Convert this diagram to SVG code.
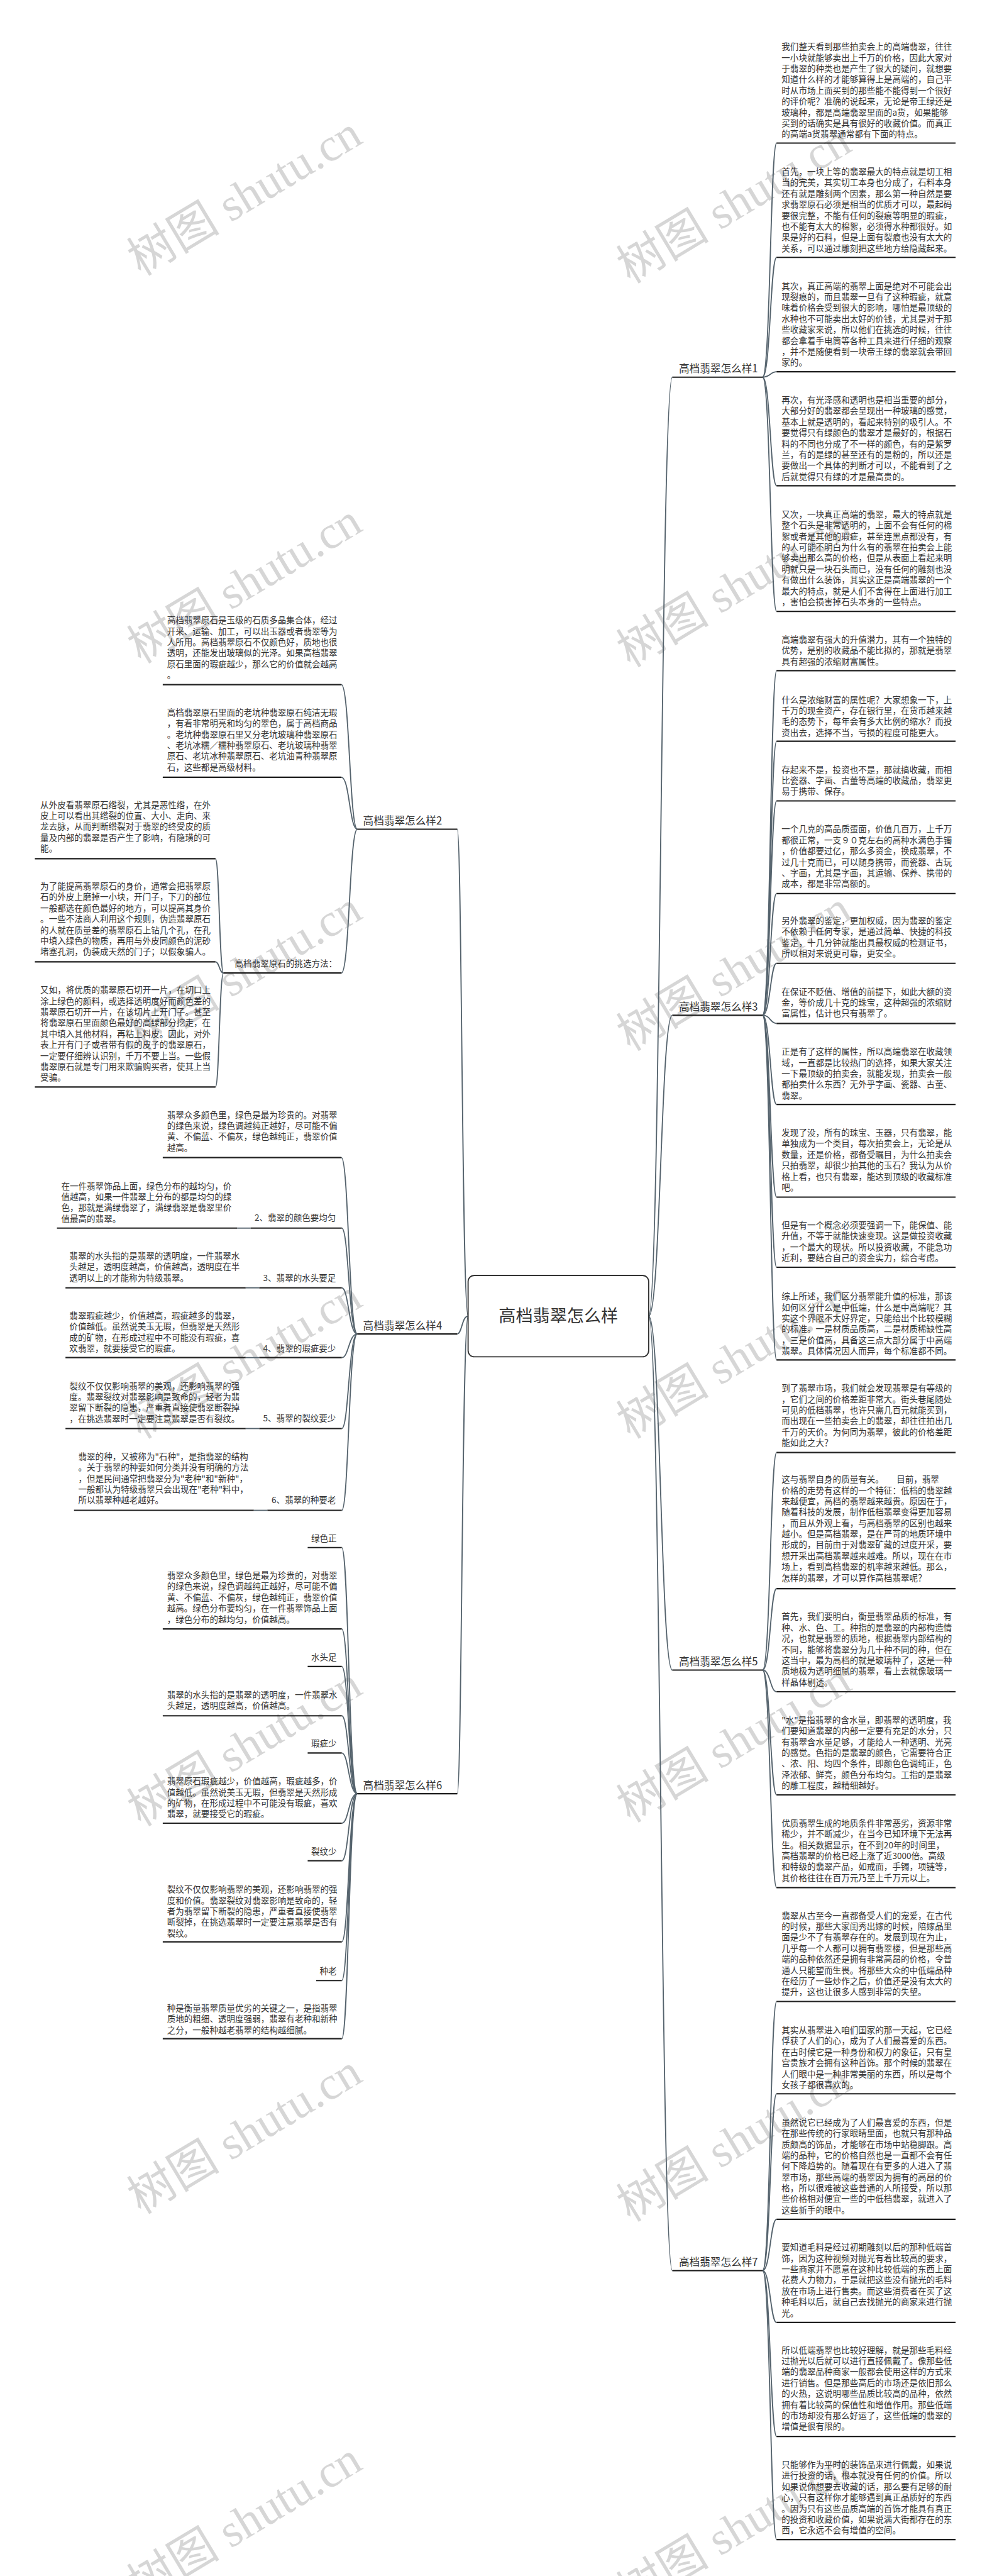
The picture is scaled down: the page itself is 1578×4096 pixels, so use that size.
<svg xmlns="http://www.w3.org/2000/svg" width="1578" height="4096" viewBox="0 0 1578 4096">
<style>
.t{font-family:"Noto Sans CJK SC","Noto Sans",sans-serif;font-size:22px;fill:#333}
.lb{font-family:"Noto Sans CJK SC","Noto Sans",sans-serif;font-size:27px;fill:#333}
.ct{font-family:"Noto Sans CJK SC","Noto Sans",sans-serif;font-size:44px;fill:#333}
.u{stroke:#1f1f1f;stroke-width:3.5;fill:none}
.c{stroke:#55636d;stroke-width:3;fill:none}
.wm{font-family:"Liberation Serif","Noto Sans CJK SC",serif;font-size:120px;fill:#d6d6d6}
</style>
<rect width="1578" height="4096" fill="#fff"/>
<g transform="scale(0.61641)">
<g id="watermarks">
<text class="wm" transform="translate(652,540) rotate(-31)" text-anchor="middle">树图 shutu.cn</text>
<text class="wm" transform="translate(652,1540) rotate(-31)" text-anchor="middle">树图 shutu.cn</text>
<text class="wm" transform="translate(652,2540) rotate(-31)" text-anchor="middle">树图 shutu.cn</text>
<text class="wm" transform="translate(652,3540) rotate(-31)" text-anchor="middle">树图 shutu.cn</text>
<text class="wm" transform="translate(652,4540) rotate(-31)" text-anchor="middle">树图 shutu.cn</text>
<text class="wm" transform="translate(652,5540) rotate(-31)" text-anchor="middle">树图 shutu.cn</text>
<text class="wm" transform="translate(652,6540) rotate(-31)" text-anchor="middle">树图 shutu.cn</text>
<text class="wm" transform="translate(1915,560) rotate(-31)" text-anchor="middle">树图 shutu.cn</text>
<text class="wm" transform="translate(1915,1550) rotate(-31)" text-anchor="middle">树图 shutu.cn</text>
<text class="wm" transform="translate(1915,2540) rotate(-31)" text-anchor="middle">树图 shutu.cn</text>
<text class="wm" transform="translate(1915,3540) rotate(-31)" text-anchor="middle">树图 shutu.cn</text>
<text class="wm" transform="translate(1915,4530) rotate(-31)" text-anchor="middle">树图 shutu.cn</text>
<text class="wm" transform="translate(1915,5560) rotate(-31)" text-anchor="middle">树图 shutu.cn</text>
<text class="wm" transform="translate(1915,6560) rotate(-31)" text-anchor="middle">树图 shutu.cn</text>
</g>

<g id="connectors">
<path class="c" d="M1674,3395 C1705,3395 1705,973 1735,973"/>
<path class="c" d="M1674,3395 C1705,3395 1705,2619 1735,2619"/>
<path class="c" d="M1674,3395 C1705,3395 1705,4308 1735,4308"/>
<path class="c" d="M1674,3395 C1705,3395 1705,5857 1735,5857"/>
<path class="c" d="M1208,3395 C1192,3395 1192,2139 1180,2139"/>
<path class="c" d="M1208,3395 C1192,3395 1192,3441 1180,3441"/>
<path class="c" d="M1208,3395 C1192,3395 1192,4627 1180,4627"/>
<path class="c" d="M1968,973 C1988,973 1988,369 2004,369"/>
<path class="c" d="M1968,973 C1988,973 1988,664 2004,664"/>
<path class="c" d="M1968,973 C1988,973 1988,959 2004,959"/>
<path class="c" d="M1968,973 C1988,973 1988,1253 2004,1253"/>
<path class="c" d="M1968,973 C1988,973 1988,1577 2004,1577"/>
<path class="c" d="M1968,2619 C1988,2619 1988,1730 2004,1730"/>
<path class="c" d="M1968,2619 C1988,2619 1988,1912 2004,1912"/>
<path class="c" d="M1968,2619 C1988,2619 1988,2066 2004,2066"/>
<path class="c" d="M1968,2619 C1988,2619 1988,2305 2004,2305"/>
<path class="c" d="M1968,2619 C1988,2619 1988,2485 2004,2485"/>
<path class="c" d="M1968,2619 C1988,2619 1988,2640 2004,2640"/>
<path class="c" d="M1968,2619 C1988,2619 1988,2849 2004,2849"/>
<path class="c" d="M1968,2619 C1988,2619 1988,3088 2004,3088"/>
<path class="c" d="M1968,2619 C1988,2619 1988,3269 2004,3269"/>
<path class="c" d="M1968,2619 C1988,2619 1988,3508 2004,3508"/>
<path class="c" d="M1968,4308 C1988,4308 1988,3747 2004,3747"/>
<path class="c" d="M1968,4308 C1988,4308 1988,4098 2004,4098"/>
<path class="c" d="M1968,4308 C1988,4308 1988,4364 2004,4364"/>
<path class="c" d="M1968,4308 C1988,4308 1988,4630 2004,4630"/>
<path class="c" d="M1968,4308 C1988,4308 1988,4869 2004,4869"/>
<path class="c" d="M1968,5857 C1988,5857 1988,5163 2004,5163"/>
<path class="c" d="M1968,5857 C1988,5857 1988,5401 2004,5401"/>
<path class="c" d="M1968,5857 C1988,5857 1988,5725 2004,5725"/>
<path class="c" d="M1968,5857 C1988,5857 1988,5991 2004,5991"/>
<path class="c" d="M1968,5857 C1988,5857 1988,6285 2004,6285"/>
<path class="c" d="M1968,5857 C1988,5857 1988,6551 2004,6551"/>
<path class="c" d="M922,2139 C902,2139 902,1766 881,1766"/>
<path class="c" d="M922,2139 C902,2139 902,2005 881,2005"/>
<path class="c" d="M922,2139 C902,2139 902,2510 881,2510"/>
<path class="c" d="M577,2510 C566,2510 566,2215 556,2215"/>
<path class="c" d="M577,2510 C566,2510 566,2481 556,2481"/>
<path class="c" d="M577,2510 C566,2510 566,2804 556,2804"/>
<path class="c" d="M922,3441 C900,3441 900,2986 881,2986"/>
<path class="c" d="M922,3441 C900,3441 900,3168 882,3168"/>
<path class="c" d="M922,3441 C900,3441 900,3322 882,3322"/>
<path class="c" d="M922,3441 C900,3441 900,3502 882,3502"/>
<path class="c" d="M922,3441 C900,3441 900,3685 882,3685"/>
<path class="c" d="M922,3441 C900,3441 900,3896 882,3896"/>
<path class="c" d="M647,3168 L612,3168"/>
<path class="c" d="M669,3322 L634,3322"/>
<path class="c" d="M669,3502 L634,3502"/>
<path class="c" d="M669,3685 L634,3685"/>
<path class="c" d="M690,3896 L655,3896"/>
<path class="c" d="M922,4627 C900,4627 900,3992 882,3992"/>
<path class="c" d="M922,4627 C900,4627 900,4202 882,4202"/>
<path class="c" d="M922,4627 C900,4627 900,4299 882,4299"/>
<path class="c" d="M922,4627 C900,4627 900,4426 882,4426"/>
<path class="c" d="M922,4627 C900,4627 900,4522 882,4522"/>
<path class="c" d="M922,4627 C900,4627 900,4703 882,4703"/>
<path class="c" d="M922,4627 C900,4627 900,4800 882,4800"/>
<path class="c" d="M922,4627 C900,4627 900,5009 882,5009"/>
<path class="c" d="M922,4627 C900,4627 900,5109 882,5109"/>
<path class="c" d="M922,4627 C900,4627 900,5259 882,5259"/>
</g>

<g id="center">
<rect x="1208" y="3290" width="466" height="210" rx="16" fill="#fff" stroke="#333" stroke-width="3"/>
<text class="ct" x="1441" y="3410" text-anchor="middle">高档翡翠怎么样</text>
</g>

<g id="b1"><text class="lb" x="1752" y="961">高档翡翠怎么样1</text><path class="u" d="M1735,973 H1968"/></g>
<g id="b3"><text class="lb" x="1752" y="2607">高档翡翠怎么样3</text><path class="u" d="M1735,2619 H1968"/></g>
<g id="b5"><text class="lb" x="1752" y="4296">高档翡翠怎么样5</text><path class="u" d="M1735,4308 H1968"/></g>
<g id="b7"><text class="lb" x="1752" y="5845">高档翡翠怎么样7</text><path class="u" d="M1735,5857 H1968"/></g>
<g id="b2"><text class="lb" x="937" y="2127">高档翡翠怎么样2</text><path class="u" d="M922,2139 H1180"/></g>
<g id="b4"><text class="lb" x="937" y="3429">高档翡翠怎么样4</text><path class="u" d="M922,3441 H1180"/></g>
<g id="b6"><text class="lb" x="937" y="4615">高档翡翠怎么样6</text><path class="u" d="M922,4627 H1180"/></g>

<g id="nA"><text class="t" x="2017" y="128.6"><tspan x="2017">我们整天看到那些拍卖会上的高端翡翠，往往</tspan><tspan x="2017" dy="28.2">一小块就能够卖出上千万的价格，因此大家对</tspan><tspan x="2017" dy="28.2">于翡翠的种类也是产生了很大的疑问，就想要</tspan><tspan x="2017" dy="28.2">知道什么样的才能够算得上是高端的，自己平</tspan><tspan x="2017" dy="28.2">时从市场上面买到的那些能不能得到一个很好</tspan><tspan x="2017" dy="28.2">的评价呢？准确的说起来，无论是帝王绿还是</tspan><tspan x="2017" dy="28.2">玻璃种，都是高端翡翠里面的a货，如果能够</tspan><tspan x="2017" dy="28.2">买到的话确实是具有很好的收藏价值。而真正</tspan><tspan x="2017" dy="28.2">的高端a货翡翠通常都有下面的特点。</tspan></text><path class="u" d="M2004,369 H2466"/></g>
<g id="nB"><text class="t" x="2017" y="451"><tspan x="2017">首先，一块上等的翡翠最大的特点就是切工相</tspan><tspan x="2017" dy="28.2">当的完美，其实切工本身也分成了，石料本身</tspan><tspan x="2017" dy="28.2">还有就是雕刻两个因素，那么第一种自然是要</tspan><tspan x="2017" dy="28.2">求翡翠原石必须是相当的优质才可以，最起码</tspan><tspan x="2017" dy="28.2">要很完整，不能有任何的裂痕等明显的瑕疵，</tspan><tspan x="2017" dy="28.2">也不能有太大的棉絮，必须得水种都很好。如</tspan><tspan x="2017" dy="28.2">果是好的石料，但是上面有裂痕也没有太大的</tspan><tspan x="2017" dy="28.2">关系，可以通过雕刻把这些地方给隐藏起来。</tspan></text><path class="u" d="M2004,664 H2466"/></g>
<g id="nC"><text class="t" x="2017" y="745.6"><tspan x="2017">其次，真正高端的翡翠上面是绝对不可能会出</tspan><tspan x="2017" dy="28.2">现裂痕的，而且翡翠一旦有了这种瑕疵，就意</tspan><tspan x="2017" dy="28.2">味着价格会受到很大的影响，哪怕是最顶级的</tspan><tspan x="2017" dy="28.2">水种也不可能卖出太好的价钱，尤其是对于那</tspan><tspan x="2017" dy="28.2">些收藏家来说，所以他们在挑选的时候，往往</tspan><tspan x="2017" dy="28.2">都会拿着手电筒等各种工具来进行仔细的观察</tspan><tspan x="2017" dy="28.2">，并不是随便看到一块帝王绿的翡翠就会带回</tspan><tspan x="2017" dy="28.2">家的。</tspan></text><path class="u" d="M2004,959 H2466"/></g>
<g id="nD"><text class="t" x="2017" y="1040"><tspan x="2017">再次，有光泽感和透明也是相当重要的部分，</tspan><tspan x="2017" dy="28.2">大部分好的翡翠都会呈现出一种玻璃的感觉，</tspan><tspan x="2017" dy="28.2">基本上就是透明的，看起来特别的吸引人。不</tspan><tspan x="2017" dy="28.2">要觉得只有绿颜色的翡翠才是最好的，根据石</tspan><tspan x="2017" dy="28.2">料的不同也分成了不一样的颜色，有的是紫罗</tspan><tspan x="2017" dy="28.2">兰，有的是绿的甚至还有的是粉的，所以还是</tspan><tspan x="2017" dy="28.2">要做出一个具体的判断才可以，不能看到了之</tspan><tspan x="2017" dy="28.2">后就觉得只有绿的才是最高贵的。</tspan></text><path class="u" d="M2004,1253 H2466"/></g>
<g id="nE"><text class="t" x="2017" y="1335"><tspan x="2017">又次，一块真正高端的翡翠，最大的特点就是</tspan><tspan x="2017" dy="28.2">整个石头是非常透明的，上面不会有任何的棉</tspan><tspan x="2017" dy="28.2">絮或者是其他的瑕疵，甚至连黑点都没有，有</tspan><tspan x="2017" dy="28.2">的人可能不明白为什么有的翡翠在拍卖会上能</tspan><tspan x="2017" dy="28.2">够卖出那么高的价格，但是从表面上看起来明</tspan><tspan x="2017" dy="28.2">明就只是一块石头而已，没有任何的雕刻也没</tspan><tspan x="2017" dy="28.2">有做出什么装饰，其实这正是高端翡翠的一个</tspan><tspan x="2017" dy="28.2">最大的特点，就是人们不舍得在上面进行加工</tspan><tspan x="2017" dy="28.2">，害怕会损害掉石头本身的一些特点。</tspan></text><path class="u" d="M2004,1577 H2466"/></g>
<g id="nF"><text class="t" x="2017" y="1658"><tspan x="2017">高端翡翠有强大的升值潜力，其有一个独特的</tspan><tspan x="2017" dy="28.2">优势，是别的收藏品不能比拟的，那就是翡翠</tspan><tspan x="2017" dy="28.2">具有超强的浓缩财富属性。</tspan></text><path class="u" d="M2004,1730 H2466"/></g>
<g id="nG"><text class="t" x="2017" y="1813"><tspan x="2017">什么是浓缩财富的属性呢？大家想象一下，上</tspan><tspan x="2017" dy="28.2">千万的现金资产，存在银行里，在货币越来越</tspan><tspan x="2017" dy="28.2">毛的态势下，每年会有多大比例的缩水？而投</tspan><tspan x="2017" dy="28.2">资出去，选择不当，亏损的程度可能更大。</tspan></text><path class="u" d="M2004,1912 H2466"/></g>
<g id="nH"><text class="t" x="2017" y="1993"><tspan x="2017">存起来不是，投资也不是，那就搞收藏，而相</tspan><tspan x="2017" dy="28.2">比瓷器、字画、古董等高端的收藏品，翡翠更</tspan><tspan x="2017" dy="28.2">易于携带、保存。</tspan></text><path class="u" d="M2004,2066 H2466"/></g>
<g id="nI"><text class="t" x="2017" y="2147"><tspan x="2017">一个几克的高品质蛋面，价值几百万，上千万</tspan><tspan x="2017" dy="28.2">都很正常，一支９０克左右的高种水满色手镯</tspan><tspan x="2017" dy="28.2">，价值都要过亿，那么多资金，换成翡翠，不</tspan><tspan x="2017" dy="28.2">过几十克而已，可以随身携带，而瓷器、古玩</tspan><tspan x="2017" dy="28.2">、字画，尤其是字画，其运输、保养、携带的</tspan><tspan x="2017" dy="28.2">成本，都是非常高额的。</tspan></text><path class="u" d="M2004,2305 H2466"/></g>
<g id="nJ"><text class="t" x="2017" y="2383"><tspan x="2017">另外翡翠的鉴定，更加权威，因为翡翠的鉴定</tspan><tspan x="2017" dy="28.2">不依赖于任何专家，是通过简单、快捷的科技</tspan><tspan x="2017" dy="28.2">鉴定，十几分钟就能出具最权威的检测证书，</tspan><tspan x="2017" dy="28.2">所以相对来说更可靠，更安全。</tspan></text><path class="u" d="M2004,2485 H2466"/></g>
<g id="nK"><text class="t" x="2017" y="2566"><tspan x="2017">在保证不贬值、增值的前提下，如此大额的资</tspan><tspan x="2017" dy="28.2">金，等价成几十克的珠宝，这种超强的浓缩财</tspan><tspan x="2017" dy="28.2">富属性，估计也只有翡翠了。</tspan></text><path class="u" d="M2004,2640 H2466"/></g>
<g id="nL"><text class="t" x="2017" y="2721"><tspan x="2017">正是有了这样的属性，所以高端翡翠在收藏领</tspan><tspan x="2017" dy="28.2">域，一直都是比较热门的选择，如果大家关注</tspan><tspan x="2017" dy="28.2">一下最顶级的拍卖会，就能发现，拍卖会一般</tspan><tspan x="2017" dy="28.2">都拍卖什么东西？无外乎字画、瓷器、古董、</tspan><tspan x="2017" dy="28.2">翡翠。</tspan></text><path class="u" d="M2004,2849 H2466"/></g>
<g id="nM"><text class="t" x="2017" y="2930"><tspan x="2017">发现了没，所有的珠宝、玉器，只有翡翠，能</tspan><tspan x="2017" dy="28.2">单独成为一个类目，每次拍卖会上，无论是从</tspan><tspan x="2017" dy="28.2">数量，还是价格，都备受瞩目，为什么拍卖会</tspan><tspan x="2017" dy="28.2">只拍翡翠，却很少拍其他的玉石？我认为从价</tspan><tspan x="2017" dy="28.2">格上看，也只有翡翠，能达到顶级的收藏标准</tspan><tspan x="2017" dy="28.2">吧。</tspan></text><path class="u" d="M2004,3088 H2466"/></g>
<g id="nN"><text class="t" x="2017" y="3168"><tspan x="2017">但是有一个概念必须要强调一下，能保值、能</tspan><tspan x="2017" dy="28.2">升值，不等于就能快速变现。这是做投资收藏</tspan><tspan x="2017" dy="28.2">，一个最大的现状。所以投资收藏，不能急功</tspan><tspan x="2017" dy="28.2">近利，要结合自己的资金实力，综合考虑。</tspan></text><path class="u" d="M2004,3269 H2466"/></g>
<g id="nO"><text class="t" x="2017" y="3352"><tspan x="2017">综上所述，我们区分翡翠能升值的标准，那该</tspan><tspan x="2017" dy="28.2">如何区分什么是中低端，什么是中高端呢？其</tspan><tspan x="2017" dy="28.2">实这个界限不太好界定，只能给出个比较模糊</tspan><tspan x="2017" dy="28.2">的标准。一是材质品质高，二是材质稀缺性高</tspan><tspan x="2017" dy="28.2">，三是价值高，具备这三点大部分属于中高端</tspan><tspan x="2017" dy="28.2">翡翠。具体情况因人而异，每个标准都不同。</tspan></text><path class="u" d="M2004,3508 H2466"/></g>
<g id="nP"><text class="t" x="2017" y="3589"><tspan x="2017">到了翡翠市场，我们就会发现翡翠是有等级的</tspan><tspan x="2017" dy="28.2">，它们之间的价格差距非常大。街头巷尾随处</tspan><tspan x="2017" dy="28.2">可见的低档翡翠，也许只需几百元就能买到，</tspan><tspan x="2017" dy="28.2">而出现在一些拍卖会上的翡翠，却往往拍出几</tspan><tspan x="2017" dy="28.2">千万的天价。为何同为翡翠，彼此的价格差距</tspan><tspan x="2017" dy="28.2">能如此之大？</tspan></text><path class="u" d="M2004,3747 H2466"/></g>
<g id="nQ"><text class="t" x="2017" y="3824"><tspan x="2017">这与翡翠自身的质量有关。　　目前，翡翠</tspan><tspan x="2017" dy="28.2">价格的走势有这样的一个特征：低档的翡翠越</tspan><tspan x="2017" dy="28.2">来越便宜，高档的翡翠越来越贵。原因在于，</tspan><tspan x="2017" dy="28.2">随着科技的发展，制作低档翡翠变得更加容易</tspan><tspan x="2017" dy="28.2">，而且从外观上看，与高档翡翠的区别也越来</tspan><tspan x="2017" dy="28.2">越小。但是高档翡翠，是在严苛的地质环境中</tspan><tspan x="2017" dy="28.2">形成的，目前由于对翡翠矿藏的过度开采，要</tspan><tspan x="2017" dy="28.2">想开采出高档翡翠越来越难。所以，现在在市</tspan><tspan x="2017" dy="28.2">场上，看到高档翡翠的机率越来越低。那么，</tspan><tspan x="2017" dy="28.2">怎样的翡翠，才可以算作高档翡翠呢？</tspan></text><path class="u" d="M2004,4098 H2466"/></g>
<g id="nR"><text class="t" x="2017" y="4178"><tspan x="2017">首先，我们要明白，衡量翡翠品质的标准，有</tspan><tspan x="2017" dy="28.2">种、水、色、工。种指的是翡翠的内部构造情</tspan><tspan x="2017" dy="28.2">况，也就是翡翠的质地，根据翡翠内部结构的</tspan><tspan x="2017" dy="28.2">不同，能够将翡翠分为几十种不同的种，但在</tspan><tspan x="2017" dy="28.2">这当中，最为高档的就是玻璃种了，这是一种</tspan><tspan x="2017" dy="28.2">质地极为透明细腻的翡翠，看上去就像玻璃一</tspan><tspan x="2017" dy="28.2">样晶体剔透。</tspan></text><path class="u" d="M2004,4364 H2466"/></g>
<g id="nS"><text class="t" x="2017" y="4445"><tspan x="2017">"水"是指翡翠的含水量，即翡翠的透明度，我</tspan><tspan x="2017" dy="28.2">们要知道翡翠的内部一定要有充足的水分，只</tspan><tspan x="2017" dy="28.2">有翡翠含水量足够，才能给人一种透明、光亮</tspan><tspan x="2017" dy="28.2">的感觉。色指的是翡翠的颜色，它需要符合正</tspan><tspan x="2017" dy="28.2">、浓、阳、均四个条件，即颜色色调纯正，色</tspan><tspan x="2017" dy="28.2">泽浓郁、鲜亮，颜色分布均匀。工指的是翡翠</tspan><tspan x="2017" dy="28.2">的雕工程度，越精细越好。</tspan></text><path class="u" d="M2004,4630 H2466"/></g>
<g id="nT"><text class="t" x="2017" y="4711"><tspan x="2017">优质翡翠生成的地质条件非常恶劣，资源非常</tspan><tspan x="2017" dy="28.2">稀少，并不断减少，在当今已知环境下无法再</tspan><tspan x="2017" dy="28.2">生。相关数据显示，在不到20年的时间里，</tspan><tspan x="2017" dy="28.2">高档翡翠的价格已经上涨了近3000倍。高级</tspan><tspan x="2017" dy="28.2">和特级的翡翠产品，如戒面，手镯，项链等，</tspan><tspan x="2017" dy="28.2">其价格往往在百万元乃至上千万元以上。</tspan></text><path class="u" d="M2004,4869 H2466"/></g>
<g id="nU"><text class="t" x="2017" y="4949"><tspan x="2017">翡翠从古至今一直都备受人们的宠爱，在古代</tspan><tspan x="2017" dy="28.2">的时候，那些大家闺秀出嫁的时候，陪嫁品里</tspan><tspan x="2017" dy="28.2">面是少不了有翡翠存在的。发展到现在为止，</tspan><tspan x="2017" dy="28.2">几乎每一个人都可以拥有翡翠楼，但是那些高</tspan><tspan x="2017" dy="28.2">端的品种依然还是拥有非常高昂的价格，令普</tspan><tspan x="2017" dy="28.2">通人只能望而生畏。将那些大众的中低端品种</tspan><tspan x="2017" dy="28.2">在经历了一些炒作之后，价值还是没有太大的</tspan><tspan x="2017" dy="28.2">提升，这也让很多人感到非常的失望。</tspan></text><path class="u" d="M2004,5163 H2466"/></g>
<g id="nV"><text class="t" x="2017" y="5245"><tspan x="2017">其实从翡翠进入咱们国家的那一天起，它已经</tspan><tspan x="2017" dy="28.2">俘获了人们的心，成为了人们最喜爱的东西。</tspan><tspan x="2017" dy="28.2">在古时候它是一种身份和权力的象征，只有皇</tspan><tspan x="2017" dy="28.2">宫贵族才会拥有这种首饰。那个时候的翡翠在</tspan><tspan x="2017" dy="28.2">人们眼中是一种非常美丽的东西，所以是每个</tspan><tspan x="2017" dy="28.2">女孩子都很喜欢的。</tspan></text><path class="u" d="M2004,5401 H2466"/></g>
<g id="nW"><text class="t" x="2017" y="5483"><tspan x="2017">虽然说它已经成为了人们最喜爱的东西，但是</tspan><tspan x="2017" dy="28.2">在那些传统的行家眼睛里面，也就只有那种品</tspan><tspan x="2017" dy="28.2">质颇高的饰品，才能够在市场中站稳脚跟。高</tspan><tspan x="2017" dy="28.2">端的品种，它的价格自然也是一直都不会有任</tspan><tspan x="2017" dy="28.2">何下降趋势的。随着现在有更多的人进入了翡</tspan><tspan x="2017" dy="28.2">翠市场，那些高端的翡翠因为拥有的高昂的价</tspan><tspan x="2017" dy="28.2">格，所以很难被这些普通的人所接受，所以那</tspan><tspan x="2017" dy="28.2">些价格相对便宜一些的中低档翡翠，就进入了</tspan><tspan x="2017" dy="28.2">这些新手的眼中。</tspan></text><path class="u" d="M2004,5725 H2466"/></g>
<g id="nX"><text class="t" x="2017" y="5805"><tspan x="2017">要知道毛料是经过初期雕刻以后的那种低端首</tspan><tspan x="2017" dy="28.2">饰，因为这种视频对抛光有着比较高的要求，</tspan><tspan x="2017" dy="28.2">一些商家并不愿意在这种比较低端的东西上面</tspan><tspan x="2017" dy="28.2">花费人力物力，于是就把这些没有抛光的毛料</tspan><tspan x="2017" dy="28.2">放在市场上进行售卖。而这些消费者在买了这</tspan><tspan x="2017" dy="28.2">种毛料以后，就自己去找抛光的商家来进行抛</tspan><tspan x="2017" dy="28.2">光。</tspan></text><path class="u" d="M2004,5991 H2466"/></g>
<g id="nY"><text class="t" x="2017" y="6070"><tspan x="2017">所以低端翡翠也比较好理解，就是那些毛料经</tspan><tspan x="2017" dy="28.2">过抛光以后就可以进行直接佩戴了。像那些低</tspan><tspan x="2017" dy="28.2">端的翡翠品种商家一般都会使用这样的方式来</tspan><tspan x="2017" dy="28.2">进行销售。但是那些高后的市场还是依旧那么</tspan><tspan x="2017" dy="28.2">的火热，这说明哪些品质比较高的品种，依然</tspan><tspan x="2017" dy="28.2">拥有着比较高的保值性和增值作用。那些低端</tspan><tspan x="2017" dy="28.2">的市场却没有那么好运了，这些低端的翡翠的</tspan><tspan x="2017" dy="28.2">增值是很有限的。</tspan></text><path class="u" d="M2004,6285 H2466"/></g>
<g id="nZ"><text class="t" x="2017" y="6366"><tspan x="2017">只能够作为平时的装饰品来进行佩戴，如果说</tspan><tspan x="2017" dy="28.2">进行投资的话，根本就没有任何的价值。所以</tspan><tspan x="2017" dy="28.2">如果说你想要去收藏的话，那么要有足够的耐</tspan><tspan x="2017" dy="28.2">心，只有这样你才能够遇到真正品质好的东西</tspan><tspan x="2017" dy="28.2">。因为只有这些品质高端的首饰才能具有真正</tspan><tspan x="2017" dy="28.2">的投资和收藏价值，如果说满大街都存在的东</tspan><tspan x="2017" dy="28.2">西，它永远不会有增值的空间。</tspan></text><path class="u" d="M2004,6551 H2466"/></g>

<g id="n2a"><text class="t" x="431" y="1608"><tspan x="431">高档翡翠原石是玉级的石质多晶集合体，经过</tspan><tspan x="431" dy="28.2">开采、运输、加工，可以出玉器或者翡翠等为</tspan><tspan x="431" dy="28.2">人所用。高档翡翠原石不仅颜色好，质地也很</tspan><tspan x="431" dy="28.2">透明，还能发出玻璃似的光泽。如果高档翡翠</tspan><tspan x="431" dy="28.2">原石里面的瑕疵越少，那么它的价值就会越高</tspan><tspan x="431" dy="28.2">。</tspan></text><path class="u" d="M420,1766 H881"/></g>
<g id="n2b"><text class="t" x="431" y="1846"><tspan x="431">高档翡翠原石里面的老坑种翡翠原石纯洁无瑕</tspan><tspan x="431" dy="28.2">，有着非常明亮和均匀的翠色，属于高档商品</tspan><tspan x="431" dy="28.2">。老坑种翡翠原石里又分老坑玻璃种翡翠原石</tspan><tspan x="431" dy="28.2">、老坑冰糯／糯种翡翠原石、老坑玻璃种翡翠</tspan><tspan x="431" dy="28.2">原石、老坑冰种翡翠原石、老坑油青种翡翠原</tspan><tspan x="431" dy="28.2">石，这些都是高级材料。</tspan></text><path class="u" d="M420,2005 H881"/></g>
<g id="n2c"><text class="t" x="606" y="2494">高档翡翠原石的挑选方法：</text><path class="u" d="M577,2510 H881"/></g>
<g id="n2c1"><text class="t" x="104" y="2084"><tspan x="104">从外皮看翡翠原石绺裂，尤其是恶性绺，在外</tspan><tspan x="104" dy="28.2">皮上可以看出其绺裂的位置、大小、走向、来</tspan><tspan x="104" dy="28.2">龙去脉，从而判断绺裂对于翡翠的终受皮的质</tspan><tspan x="104" dy="28.2">量及内部的翡翠是否产生了影响，有隐璜的可</tspan><tspan x="104" dy="28.2">能。</tspan></text><path class="u" d="M90,2215 H556"/></g>
<g id="n2c2"><text class="t" x="104" y="2294"><tspan x="104">为了能提高翡翠原石的身价，通常会把翡翠原</tspan><tspan x="104" dy="28.2">石的外皮上磨掉一小块，开门子，下刀的部位</tspan><tspan x="104" dy="28.2">一般都选在颜色最好的地方，可以提高其身价</tspan><tspan x="104" dy="28.2">。一些不法商人利用这个规则，伪造翡翠原石</tspan><tspan x="104" dy="28.2">的人就在质量差的翡翠原石上钻几个孔，在孔</tspan><tspan x="104" dy="28.2">中填入绿色的物质，再用与外皮同颜色的泥砂</tspan><tspan x="104" dy="28.2">堵塞孔洞，伪装成天然的门子；以假象骗人。</tspan></text><path class="u" d="M90,2481 H556"/></g>
<g id="n2c3"><text class="t" x="104" y="2562"><tspan x="104">又如，将优质的翡翠原石切开一片，在切口上</tspan><tspan x="104" dy="28.2">涂上绿色的颜料，或选择透明度好而颜色差的</tspan><tspan x="104" dy="28.2">翡翠原石切开一片，在该切片上开门子。甚至</tspan><tspan x="104" dy="28.2">将翡翠原石里面颜色最好的高绿部分挖走，在</tspan><tspan x="104" dy="28.2">其中填入其他材料，再粘上料皮。因此，对外</tspan><tspan x="104" dy="28.2">表上开有门子或者带有假的皮子的翡翠原石，</tspan><tspan x="104" dy="28.2">一定要仔细辨认识别，千万不要上当。一些假</tspan><tspan x="104" dy="28.2">翡翠原石就是专门用来欺骗购买者，使其上当</tspan><tspan x="104" dy="28.2">受骗。</tspan></text><path class="u" d="M90,2804 H556"/></g>

<g id="n4a"><text class="t" x="431" y="2884"><tspan x="431">翡翠众多颜色里，绿色是最为珍贵的。对翡翠</tspan><tspan x="431" dy="28.2">的绿色来说，绿色调越纯正越好，尽可能不偏</tspan><tspan x="431" dy="28.2">黄、不偏蓝、不偏灰，绿色越纯正，翡翠价值</tspan><tspan x="431" dy="28.2">越高。</tspan></text><path class="u" d="M420,2986 H881"/></g>
<g id="n4b"><text class="t" x="867" y="3149" text-anchor="end">2、翡翠的颜色要均匀</text><path class="u" d="M647,3168 H882"/></g>
<g id="n4b1"><text class="t" x="158" y="3067"><tspan x="158">在一件翡翠饰品上面，绿色分布的越均匀，价</tspan><tspan x="158" dy="28.2">值越高，如果一件翡翠上分布的都是均匀的绿</tspan><tspan x="158" dy="28.2">色，那就是满绿翡翠了，满绿翡翠是翡翠里价</tspan><tspan x="158" dy="28.2">值最高的翡翠。</tspan></text><path class="u" d="M147,3168 H612"/></g>
<g id="n4c"><text class="t" x="867" y="3304" text-anchor="end">3、翡翠的水头要足</text><path class="u" d="M669,3322 H882"/></g>
<g id="n4c1"><text class="t" x="179" y="3248"><tspan x="179">翡翠的水头指的是翡翠的透明度，一件翡翠水</tspan><tspan x="179" dy="28.2">头越足，透明度越高，价值越高，透明度在半</tspan><tspan x="179" dy="28.2">透明以上的才能称为特级翡翠。</tspan></text><path class="u" d="M169,3322 H634"/></g>
<g id="n4d"><text class="t" x="867" y="3486" text-anchor="end">4、翡翠的瑕疵要少</text><path class="u" d="M669,3502 H882"/></g>
<g id="n4d1"><text class="t" x="179" y="3402"><tspan x="179">翡翠瑕疵越少，价值越高，瑕疵越多的翡翠，</tspan><tspan x="179" dy="28.2">价值越低。虽然说美玉无瑕，但翡翠是天然形</tspan><tspan x="179" dy="28.2">成的矿物，在形成过程中不可能没有瑕疵，喜</tspan><tspan x="179" dy="28.2">欢翡翠，就要接受它的瑕疵。</tspan></text><path class="u" d="M169,3502 H634"/></g>
<g id="n4e"><text class="t" x="867" y="3667" text-anchor="end">5、翡翠的裂纹要少</text><path class="u" d="M669,3685 H882"/></g>
<g id="n4e1"><text class="t" x="179" y="3583"><tspan x="179">裂纹不仅仅影响翡翠的美观，还影响翡翠的强</tspan><tspan x="179" dy="28.2">度。翡翠裂纹对翡翠影响是致命的，轻者为翡</tspan><tspan x="179" dy="28.2">翠留下断裂的隐患，严重者直接使翡翠断裂掉</tspan><tspan x="179" dy="28.2">，在挑选翡翠时一定要注意翡翠是否有裂纹。</tspan></text><path class="u" d="M169,3685 H634"/></g>
<g id="n4f"><text class="t" x="867" y="3878" text-anchor="end">6、翡翠的种要老</text><path class="u" d="M690,3896 H882"/></g>
<g id="n4f1"><text class="t" x="202" y="3765"><tspan x="202">翡翠的种，又被称为"石种"，是指翡翠的结构</tspan><tspan x="202" dy="28.2">。关于翡翠的种要如何分类并没有明确的方法</tspan><tspan x="202" dy="28.2">，但是民间通常把翡翠分为"老种"和"新种"，</tspan><tspan x="202" dy="28.2">一般都认为特级翡翠只会出现在"老种"料中，</tspan><tspan x="202" dy="28.2">所以翡翠种越老越好。</tspan></text><path class="u" d="M191,3896 H655"/></g>

<g id="n6a"><text class="t" x="869" y="3976" text-anchor="end">绿色正</text><path class="u" d="M794,3992 H882"/></g>
<g id="n6a1"><text class="t" x="431" y="4072"><tspan x="431">翡翠众多颜色里，绿色是最为珍贵的，对翡翠</tspan><tspan x="431" dy="28.2">的绿色来说，绿色调越纯正越好，尽可能不偏</tspan><tspan x="431" dy="28.2">黄、不偏蓝、不偏灰，绿色越纯正，翡翠价值</tspan><tspan x="431" dy="28.2">越高。绿色分布要均匀，在一件翡翠饰品上面</tspan><tspan x="431" dy="28.2">，绿色分布的越均匀，价值越高。</tspan></text><path class="u" d="M420,4202 H882"/></g>
<g id="n6b"><text class="t" x="869" y="4283" text-anchor="end">水头足</text><path class="u" d="M794,4299 H882"/></g>
<g id="n6b1"><text class="t" x="431" y="4380"><tspan x="431">翡翠的水头指的是翡翠的透明度，一件翡翠水</tspan><tspan x="431" dy="28.2">头越足，透明度越高，价值越高。</tspan></text><path class="u" d="M420,4426 H882"/></g>
<g id="n6c"><text class="t" x="869" y="4505" text-anchor="end">瑕疵少</text><path class="u" d="M794,4522 H882"/></g>
<g id="n6c1"><text class="t" x="431" y="4603"><tspan x="431">翡翠原石瑕疵越少，价值越高，瑕疵越多，价</tspan><tspan x="431" dy="28.2">值越低。虽然说美玉无瑕，但翡翠是天然形成</tspan><tspan x="431" dy="28.2">的矿物，在形成过程中不可能没有瑕疵，喜欢</tspan><tspan x="431" dy="28.2">翡翠，就要接受它的瑕疵。</tspan></text><path class="u" d="M420,4703 H882"/></g>
<g id="n6d"><text class="t" x="869" y="4784" text-anchor="end">裂纹少</text><path class="u" d="M794,4800 H882"/></g>
<g id="n6d1"><text class="t" x="431" y="4882"><tspan x="431">裂纹不仅仅影响翡翠的美观，还影响翡翠的强</tspan><tspan x="431" dy="28.2">度和价值。翡翠裂纹对翡翠影响是致命的，轻</tspan><tspan x="431" dy="28.2">者为翡翠留下断裂的隐患，严重者直接使翡翠</tspan><tspan x="431" dy="28.2">断裂掉，在挑选翡翠时一定要注意翡翠是否有</tspan><tspan x="431" dy="28.2">裂纹。</tspan></text><path class="u" d="M420,5009 H882"/></g>
<g id="n6e"><text class="t" x="869" y="5092" text-anchor="end">种老</text><path class="u" d="M816,5109 H882"/></g>
<g id="n6e1"><text class="t" x="431" y="5188"><tspan x="431">种是衡量翡翠质量优劣的关键之一，是指翡翠</tspan><tspan x="431" dy="28.2">质地的粗细、透明度强弱，翡翠有老种和新种</tspan><tspan x="431" dy="28.2">之分，一般种越老翡翠的结构越细腻。</tspan></text><path class="u" d="M420,5259 H882"/></g>
</g>
</svg>
